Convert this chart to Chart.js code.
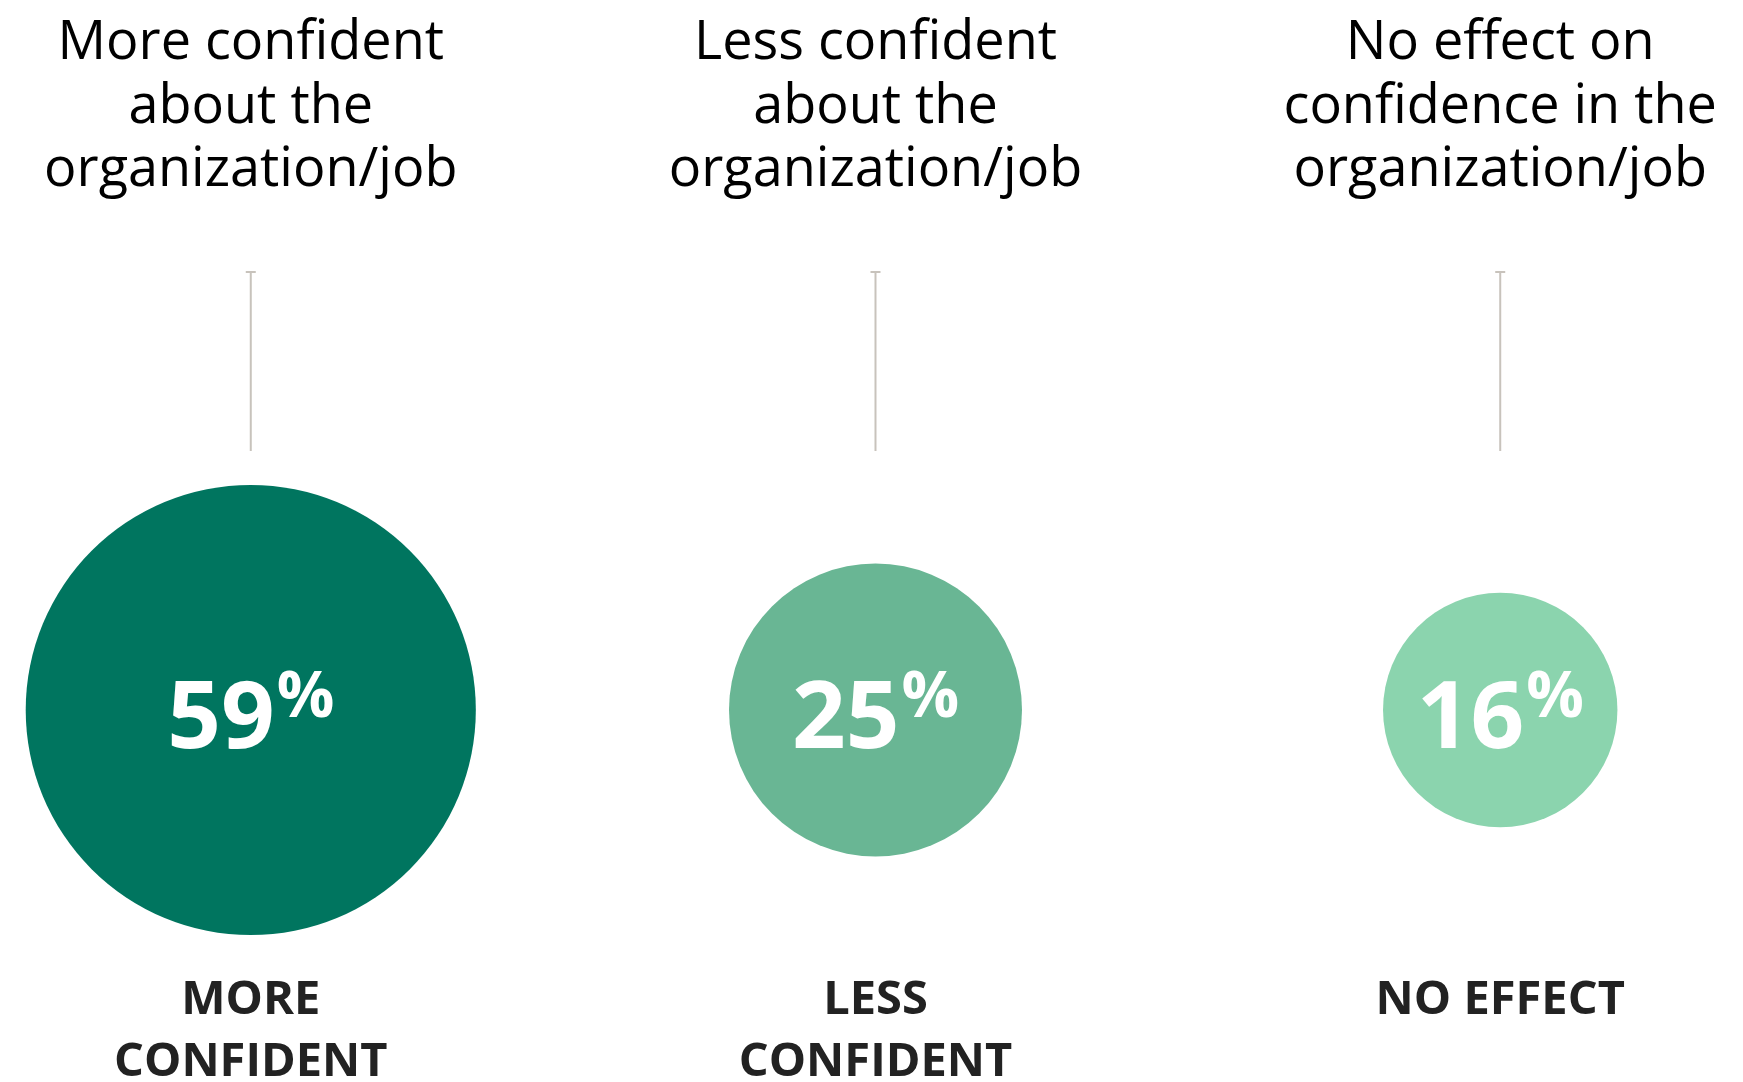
<!DOCTYPE html>
<html lang="en">
<head>
  <meta charset="UTF-8">
  <title>Confidence in the organization/job</title>
  <script src="https://cdn.jsdelivr.net/npm/chart.js"></script>
  <style>
    body {
      margin: 0;
      background: #ffffff;
    }
    canvas {
      display: block;
    }
  </style>
</head>
<body>
  <canvas id="confidenceChart" width="1743" height="1082"></canvas>

  <script>
    // values
    const topLabels = [
      ["More confident", "about the", "organization/job"],
      ["Less confident", "about the", "organization/job"],
      ["No effect on", "confidence in the", "organization/job"]
    ];
    const values = [59, 25, 16];
    const bottomLabels = [
      ["MORE", "CONFIDENT"],
      ["LESS", "CONFIDENT"],
      ["NO EFFECT"]
    ];
    const bubbleColors = ["#00755f", "#69b694", "#8bd4ae"];

    const FONT = '"Open Sans", "Noto Sans", sans-serif';
    const SIZE_K = 29.3; // radius per sqrt(percent)

    // draws the headings, connector lines, percentages and captions
    const labelsPlugin = {
      id: 'bubbleLabels',
      afterDatasetsDraw(chart) {
        const ctx = chart.ctx;
        const meta = chart.getDatasetMeta(0);
        ctx.save();
        meta.data.forEach((el, i) => {
          const cx = el.x, cy = el.y;

          // heading
          ctx.fillStyle = '#000000';
          ctx.font = '54px ' + FONT;
          ctx.textAlign = 'center';
          ctx.textBaseline = 'alphabetic';
          topLabels[i].forEach((line, j) => {
            ctx.fillText(line, cx, 59 + j * 63.5);
          });

          // connector line with a small cap
          ctx.strokeStyle = '#c8c3bc';
          ctx.lineWidth = 2;
          ctx.beginPath();
          ctx.moveTo(cx, 272);
          ctx.lineTo(cx, 451);
          ctx.moveTo(cx - 5, 272);
          ctx.lineTo(cx + 5, 272);
          ctx.stroke();

          // percentage
          const num = String(values[i]);
          ctx.fillStyle = '#ffffff';
          ctx.font = 'bold 94px ' + FONT;
          const wNum = ctx.measureText(num).width;
          ctx.font = 'bold 64px ' + FONT;
          const wPct = ctx.measureText('%').width;
          const left = cx - (wNum + wPct + 2) / 2;
          ctx.textAlign = 'left';
          ctx.font = 'bold 94px ' + FONT;
          ctx.fillText(num, left, cy + 38);
          ctx.font = 'bold 64px ' + FONT;
          ctx.fillText('%', left + wNum + 2, cy + 7);

          // caption
          ctx.fillStyle = '#222222';
          ctx.font = 'bold 47px ' + FONT;
          ctx.textAlign = 'center';
          bottomLabels[i].forEach((line, j) => {
            ctx.fillText(line, cx, 1014 + j * 62);
          });
        });
        ctx.restore();
      }
    };

    new Chart(document.getElementById('confidenceChart'), {
      type: 'bubble',
      data: {
        datasets: [{
          data: values.map((v, i) => ({ x: i, y: 0 })),
          backgroundColor: bubbleColors,
          borderWidth: 0,
          radius: c => SIZE_K * Math.sqrt(values[c.dataIndex]),
          hoverRadius: 0,
          clip: false
        }]
      },
      options: {
        responsive: false,
        animation: false,
        events: [],
        layout: {
          autoPadding: false,
          padding: { top: 338, left: 0, right: 0, bottom: 0 }
        },
        plugins: {
          legend: { display: false },
          tooltip: { enabled: false }
        },
        scales: {
          x: { type: 'linear', min: -0.4014, max: 2.3886, display: false },
          y: { type: 'linear', min: -1, max: 1, display: false }
        }
      },
      plugins: [labelsPlugin]
    });
  </script>
</body>
</html>
